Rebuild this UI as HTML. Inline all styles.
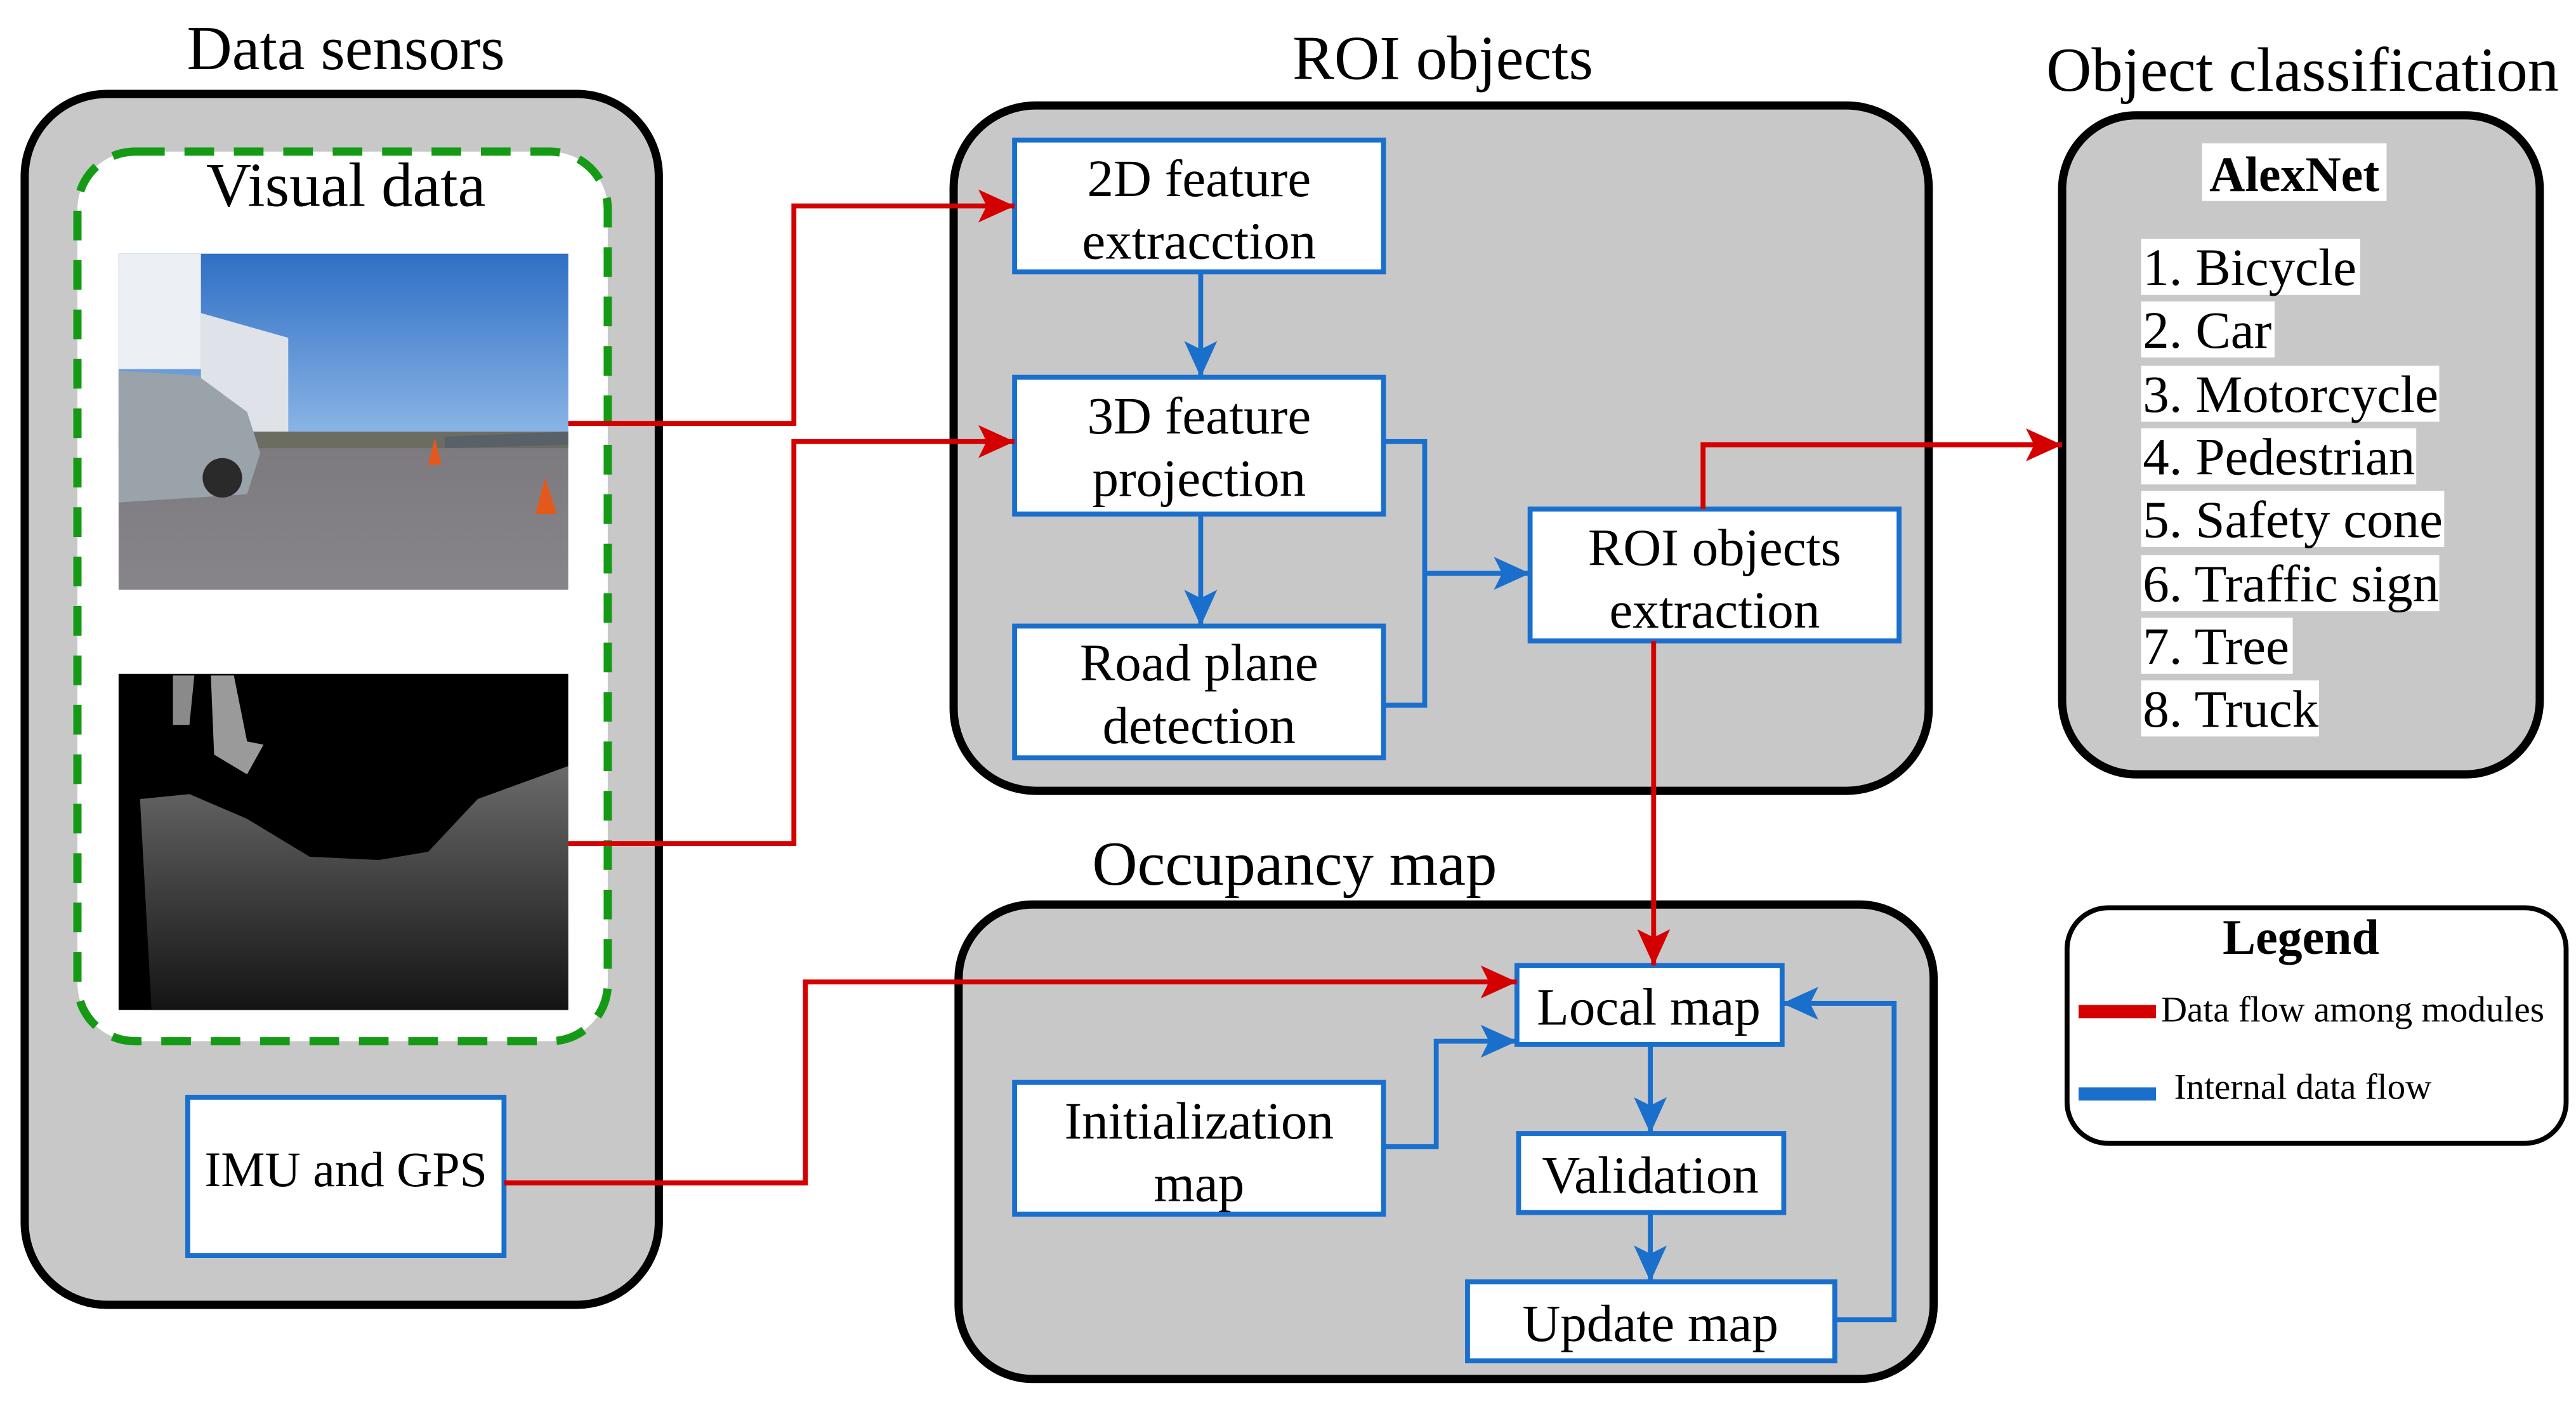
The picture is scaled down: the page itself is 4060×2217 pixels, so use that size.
<!DOCTYPE html>
<html><head><meta charset="utf-8"><style>
html,body{margin:0;padding:0;background:#fff;}
svg{display:block;}
text{font-family:"Liberation Serif",serif;fill:#000;}
</style></head><body>
<svg width="4060" height="2217" viewBox="0 0 1564 854" xmlns="http://www.w3.org/2000/svg" font-family="Liberation Serif, serif">
<defs>
<marker id="ar" markerWidth="22" markerHeight="20" refX="22" refY="10" orient="auto" markerUnits="userSpaceOnUse" viewBox="0 0 22 20"><path d="M0,0 L22,10 L0,20 L5,10 z" fill="#d40000"/></marker>
<marker id="ab" markerWidth="22" markerHeight="20" refX="22" refY="10" orient="auto" markerUnits="userSpaceOnUse" viewBox="0 0 22 20"><path d="M0,0 L22,10 L0,20 L5,10 z" fill="#1a6fcc"/></marker>
<linearGradient id="sky" x1="0" y1="0" x2="0" y2="1"><stop offset="0" stop-color="#2f6fc4"/><stop offset="1" stop-color="#8bb5e6"/></linearGradient>
<linearGradient id="road" x1="0" y1="0" x2="0" y2="1"><stop offset="0" stop-color="#6e6c70"/><stop offset="1" stop-color="#87858a"/></linearGradient>
<linearGradient id="dep" x1="0" y1="0" x2="0" y2="1"><stop offset="0" stop-color="#6a6a6a"/><stop offset="1" stop-color="#141414"/></linearGradient>
</defs>
<text x="210" y="42" font-size="38" text-anchor="middle">Data sensors</text>
<rect x="15" y="57" width="385" height="735" rx="50" fill="#c8c8c8" stroke="#000" stroke-width="5"/>
<rect x="47" y="92" width="322" height="540" rx="35" fill="#fff" stroke="#159a15" stroke-width="5" stroke-dasharray="18,12"/>
<text x="210" y="125" font-size="38" text-anchor="middle">Visual data</text>
<!-- photo -->
<rect x="72" y="154" width="273" height="204" fill="url(#road)"/>
<rect x="72" y="154" width="273" height="110" fill="url(#sky)"/>
<rect x="72" y="154" width="50" height="70" fill="#eceff4"/>
<polygon points="122,190 175,205 175,262 122,262" fill="#dfe2e8"/>
<rect x="72" y="262" width="273" height="10" fill="#6b6d62"/>
<path d="M72,225 L120,228 L150,250 L158,275 L150,300 L72,305 z" fill="#9aa2aa"/>
<circle cx="135" cy="290" r="12" fill="#2a2a2a"/>
<path d="M270,265 L345,262 L345,270 L270,272 z" fill="#596068"/>
<polygon points="331,290 325,312 338,312" fill="#e4581c"/>
<polygon points="264,266 260,282 268,282" fill="#e4581c"/>
<!-- depth -->
<rect x="72" y="409" width="273" height="204" fill="#000"/>
<path d="M85,485 L115,482 L150,497 L188,520 L230,522 L260,517 L290,485 L345,465 L345,613 L92,613 z" fill="url(#dep)"/>
<path d="M105,410 L118,410 L115,440 L105,440 z" fill="#8a8a8a"/>
<path d="M128,410 L142,410 L150,450 L160,452 L150,470 L130,458 z" fill="#9a9a9a"/>
<!-- IMU -->
<rect x="114" y="666" width="192" height="96" fill="#fff" stroke="#1a6fcc" stroke-width="3"/>
<text x="210" y="720" font-size="30" text-anchor="middle">IMU and GPS</text>

<!-- ROI objects -->
<text x="876" y="48" font-size="38" text-anchor="middle">ROI objects</text>
<rect x="579" y="64" width="592" height="416" rx="50" fill="#c8c8c8" stroke="#000" stroke-width="5"/>
<g fill="#fff" stroke="#1a6fcc" stroke-width="3">
<rect x="616" y="85" width="224" height="80"/>
<rect x="616" y="229" width="224" height="83"/>
<rect x="616" y="380" width="224" height="80"/>
<rect x="929" y="309" width="224" height="80"/>
</g>
<g font-size="32" text-anchor="middle">
<text x="728" y="119">2D feature</text><text x="728" y="157">extracction</text>
<text x="728" y="263">3D feature</text><text x="728" y="301">projection</text>
<text x="728" y="413">Road plane</text><text x="728" y="451">detection</text>
<text x="1041" y="343">ROI objects</text><text x="1041" y="381">extraction</text>
</g>

<!-- Object classification -->
<text x="1398" y="55" font-size="38" text-anchor="middle">Object classification</text>
<rect x="1252" y="70" width="290" height="400" rx="45" fill="#c8c8c8" stroke="#000" stroke-width="5"/>
<rect x="1337" y="87" width="112" height="35" fill="#fff"/>
<text x="1393" y="116" font-size="30" font-weight="bold" text-anchor="middle">AlexNet</text>
<g fill="#fff">
<rect x="1300" y="145" width="133" height="34"/>
<rect x="1300" y="183" width="81" height="34"/>
<rect x="1300" y="222" width="181" height="34"/>
<rect x="1300" y="260" width="167" height="34"/>
<rect x="1300" y="298" width="184" height="34"/>
<rect x="1300" y="337" width="181" height="34"/>
<rect x="1300" y="375" width="92" height="34"/>
<rect x="1300" y="413" width="108" height="34"/>
</g>
<g font-size="32">
<text x="1301" y="173">1. Bicycle</text>
<text x="1301" y="211">2. Car</text>
<text x="1301" y="250">3. Motorcycle</text>
<text x="1301" y="288">4. Pedestrian</text>
<text x="1301" y="326">5. Safety cone</text>
<text x="1301" y="365">6. Traffic sign</text>
<text x="1301" y="403">7. Tree</text>
<text x="1301" y="441">8. Truck</text>
</g>

<!-- Occupancy map -->
<text x="786" y="537" font-size="38" text-anchor="middle">Occupancy map</text>
<rect x="582" y="549" width="592" height="288" rx="45" fill="#c8c8c8" stroke="#000" stroke-width="5"/>
<g fill="#fff" stroke="#1a6fcc" stroke-width="3">
<rect x="921" y="586" width="161" height="48"/>
<rect x="616" y="657" width="224" height="80"/>
<rect x="922" y="688" width="161" height="48"/>
<rect x="891" y="778" width="223" height="48"/>
</g>
<g font-size="32" text-anchor="middle">
<text x="1001" y="622">Local map</text>
<text x="728" y="691">Initialization</text><text x="728" y="729">map</text>
<text x="1002" y="724">Validation</text>
<text x="1002" y="814">Update map</text>
</g>

<!-- Legend -->
<rect x="1255" y="551" width="303" height="143" rx="25" fill="#fff" stroke="#000" stroke-width="3"/>
<text x="1397" y="579" font-size="30" font-weight="bold" text-anchor="middle">Legend</text>
<line x1="1262" y1="614" x2="1309" y2="614" stroke="#d40000" stroke-width="8"/>
<text x="1312" y="620" font-size="22">Data flow among modules</text>
<line x1="1262" y1="664" x2="1309" y2="664" stroke="#1a6fcc" stroke-width="8"/>
<text x="1320" y="667" font-size="22">Internal data flow</text>

<!-- red connectors -->
<g fill="none" stroke="#d40000" stroke-width="3">
<polyline points="345,257 482,257 482,125 616,125" marker-end="url(#ar)"/>
<polyline points="345,512 482,512 482,268 616,268" marker-end="url(#ar)"/>
<polyline points="306,718 489,718 489,596 921,596" marker-end="url(#ar)"/>
<polyline points="1034,309 1034,270 1252,270" marker-end="url(#ar)"/>
<polyline points="1004,389 1004,586" marker-end="url(#ar)"/>
</g>
<!-- blue connectors -->
<g fill="none" stroke="#1a6fcc" stroke-width="3">
<polyline points="729,165 729,229" marker-end="url(#ab)"/>
<polyline points="729,312 729,380" marker-end="url(#ab)"/>
<polyline points="840,268 865,268 865,428 840,428"/>
<polyline points="865,348 929,348" marker-end="url(#ab)"/>
<polyline points="840,696 872,696 872,632 921,632" marker-end="url(#ab)"/>
<polyline points="1002,634 1002,688" marker-end="url(#ab)"/>
<polyline points="1002,736 1002,778" marker-end="url(#ab)"/>
<polyline points="1114,801 1150,801 1150,609 1082,609" marker-end="url(#ab)"/>
</g>
</svg>
</body></html>
